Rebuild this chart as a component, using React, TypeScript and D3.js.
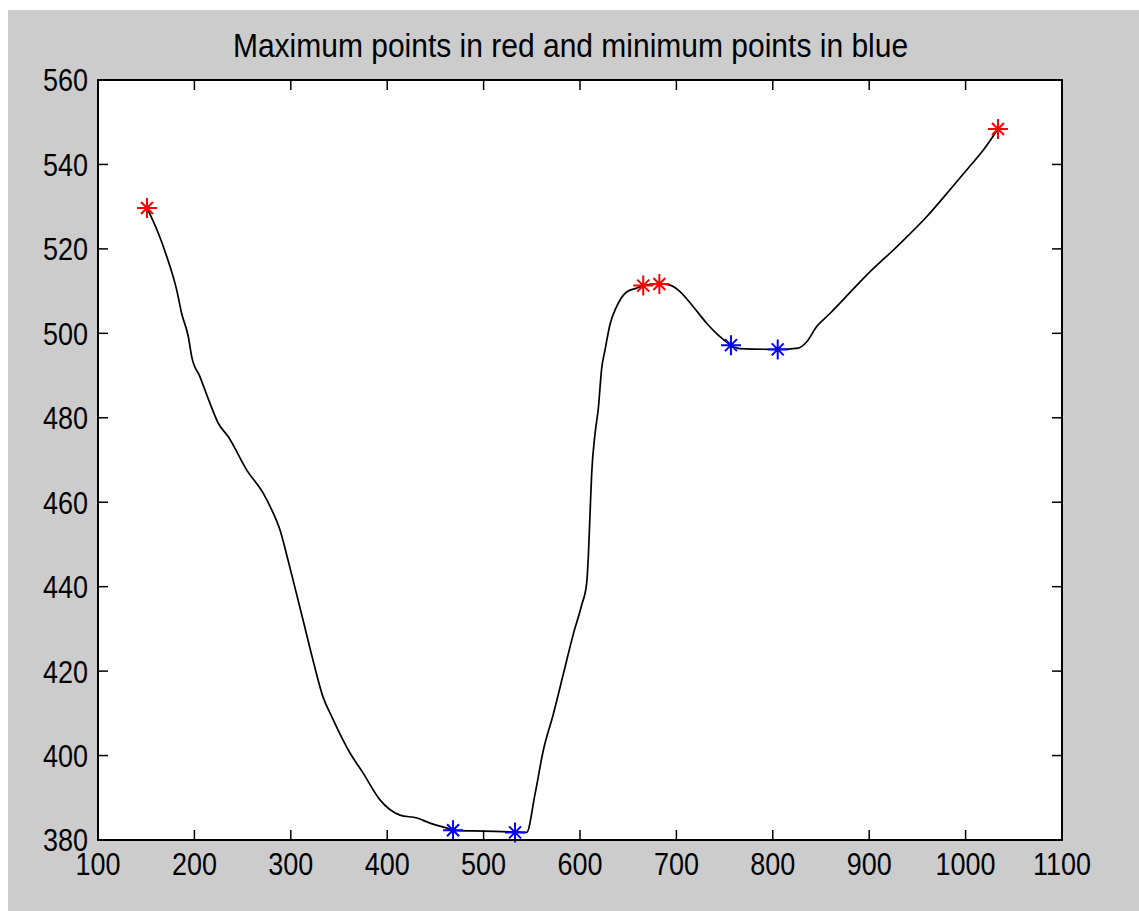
import React from "react";
import * as d3 from "d3";

const TITLE = "Maximum points in red and minimum points in blue";

const curveX = [
  150.8, 162.6, 171.3, 181.6, 186.8, 193.7, 197.2, 205.8, 216.2, 224.8, 235.2, 254.3, 271.5,
  280.2, 288.8, 297.1, 302.3, 312.7, 323.0, 333.4, 342.7, 361.4, 374.9, 392.5, 413.3, 430.9,
  444.4, 462.0, 468.3, 499.4, 532.6, 544.7, 553.3, 561.9, 572.3, 582.7, 593.0, 601.8, 606.9,
  608.6, 610.4, 612.1, 615.6, 619.0, 622.5, 625.9, 631.1, 638.1, 648.4, 658.8, 665.6, 682.3,
  693.4, 703.7, 717.5, 731.4, 745.2, 756.6, 766.0, 805.1, 826.5, 835.2, 845.5, 859.3, 897.4,
  928.5, 959.6, 983.8, 1001.1, 1018.4, 1033.6,
];
const curveY = [
  529.7, 523.7, 518.2, 510.3, 504.7, 499.2, 494.5, 489.7, 483.4, 478.7, 475.5, 467.6, 462.1,
  458.2, 453.4, 446.3, 441.6, 432.1, 422.6, 413.9, 409.1, 400.6, 395.9, 389.5, 385.9, 385.2,
  384.0, 382.8, 382.3, 382.1, 381.9, 381.8, 390.8, 401.2, 409.8, 419.3, 428.7, 435.7, 440.8,
  446.9, 457.2, 466.7, 476.2, 482.2, 491.7, 496.0, 502.1, 506.4, 509.8, 510.7, 511.3, 511.7,
  511.4, 509.9, 506.3, 502.4, 499.2, 497.2, 496.4, 496.2, 496.5, 498.0, 501.6, 504.7, 513.8,
  520.5, 527.6, 534.0, 538.7, 543.4, 548.4,
];

const maxX = [150.8, 665.6, 682.3, 1033.6];
const maxY = [529.7, 511.3, 511.7, 548.4];
const minX = [468.3, 532.6, 756.6, 805.1];
const minY = [382.3, 381.8, 497.2, 496.2];

const xTicks = [100, 200, 300, 400, 500, 600, 700, 800, 900, 1000, 1100];
const yTicks = [380, 400, 420, 440, 460, 480, 500, 520, 540, 560];

const W = 1139;
const H = 911;
const left = 98;
const right = 1062;
const top = 80;
const bottom = 840;

const starPath = "M-10,0H10M0,-10V10M-6,-6L6,6M-6,6L6,-6";

export default function App() {
  const x = d3.scaleLinear().domain([100, 1100]).range([left, right]);
  const y = d3.scaleLinear().domain([380, 560]).range([bottom, top]);
  const pts: [number, number][] = curveX.map((v, i) => [v, curveY[i]]);
  const line = d3
    .line<[number, number]>()
    .x((d) => x(d[0]))
    .y((d) => y(d[1]))
    .curve(d3.curveMonotoneX);

  const font = "Arial, 'Liberation Sans', sans-serif";
  const tickLen = 10;

  return (
    <svg
      width={W}
      height={H}
      style={{ position: "absolute", left: 0, top: 0, display: "block" }}
    >
      <rect x={0} y={0} width={W} height={H} fill="#ffffff" />
      <rect x={8} y={10} width={W - 8} height={H - 10} fill="#cccccc" />
      <rect x={left} y={top} width={right - left} height={bottom - top} fill="#ffffff" />

      {/* ticks */}
      {xTicks.map((t) => (
        <g key={"xt" + t} stroke="#000" strokeWidth={1.5}>
          <line x1={x(t)} x2={x(t)} y1={bottom} y2={bottom - tickLen} />
          <line x1={x(t)} x2={x(t)} y1={top} y2={top + tickLen} />
        </g>
      ))}
      {yTicks.map((t) => (
        <g key={"yt" + t} stroke="#000" strokeWidth={1.5}>
          <line x1={left} x2={left + tickLen} y1={y(t)} y2={y(t)} />
          <line x1={right} x2={right - tickLen} y1={y(t)} y2={y(t)} />
        </g>
      ))}

      {/* curve */}
      <path d={line(pts) || ""} fill="none" stroke="#000" strokeWidth={1.7} />

      {/* markers */}
      {maxX.map((v, i) => (
        <path
          key={"max" + i}
          d={starPath}
          transform={`translate(${x(v)},${y(maxY[i])})`}
          stroke="#ff0000"
          strokeWidth={2}
          fill="none"
        />
      ))}
      {minX.map((v, i) => (
        <path
          key={"min" + i}
          d={starPath}
          transform={`translate(${x(v)},${y(minY[i])})`}
          stroke="#0000ff"
          strokeWidth={2}
          fill="none"
        />
      ))}

      {/* axes box */}
      <rect
        x={left}
        y={top}
        width={right - left}
        height={bottom - top}
        fill="none"
        stroke="#000"
        strokeWidth={2}
      />

      {/* tick labels */}
      {xTicks.map((t) => (
        <g key={"xl" + t} transform={`translate(${x(t)},875) scale(1,1.18)`}>
          <text x={0} y={0} textAnchor="middle" fontFamily={font} fontSize={27} fill="#000">
            {t}
          </text>
        </g>
      ))}
      {yTicks.map((t) => (
        <g key={"yl" + t} transform={`translate(88,${y(t) + 11.4}) scale(1,1.18)`}>
          <text x={0} y={0} textAnchor="end" fontFamily={font} fontSize={27} fill="#000">
            {t}
          </text>
        </g>
      ))}

      {/* title */}
      <g transform={`translate(570.5,56.7) scale(1,1.08)`}>
        <text x={0} y={0} textAnchor="middle" fontFamily={font} fontSize={30} fill="#000">
          {TITLE}
        </text>
      </g>
    </svg>
  );
}
